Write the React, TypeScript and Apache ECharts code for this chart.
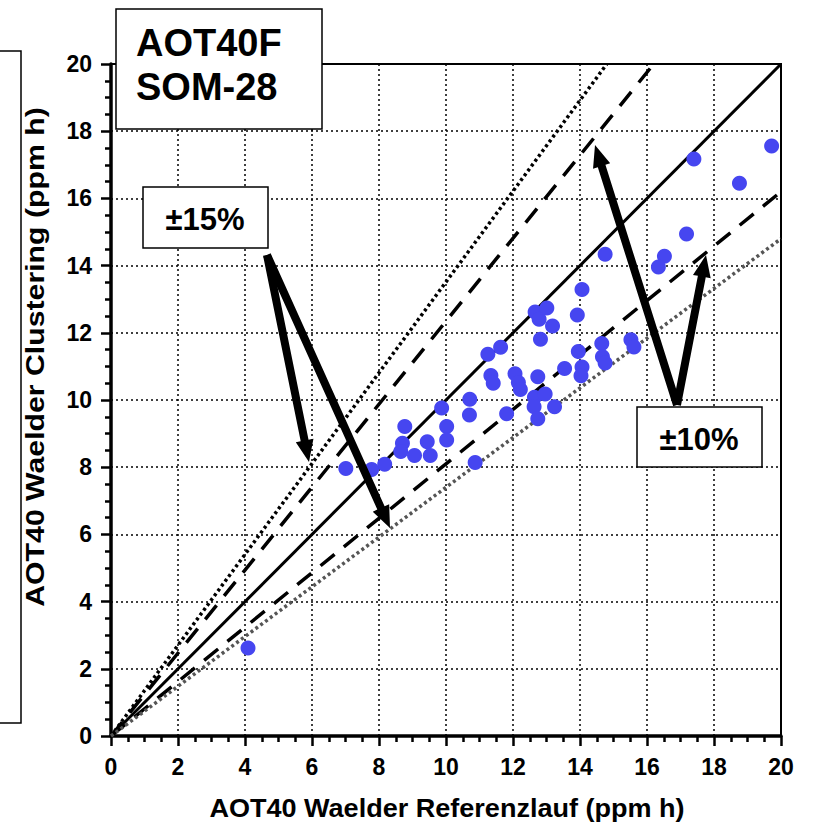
import React, { useEffect, useRef } from "react";
import * as echarts from "echarts";

// AOT40 Waelder Referenzlauf (ppm h)
const referenzlauf = [
  4.09, 7.01, 7.78, 8.17, 8.77, 8.7, 8.65, 9.06, 9.44, 9.53,
  9.87, 10.02, 10.02, 10.71, 10.7, 10.87, 11.25, 11.63, 11.34, 11.41,
  11.81, 12.06, 12.16, 12.22, 12.74, 12.82, 12.66, 12.78, 13.01, 13.18,
  12.64, 12.96, 12.63, 12.74, 13.24, 13.54, 13.95, 14.06, 14.03, 13.92,
  14.06, 14.65, 14.67, 14.75, 15.52, 15.61, 14.75, 16.52, 16.34, 17.18,
  17.4, 18.76, 19.72,
];
// AOT40 Waelder Clustering (ppm h)
const clustering = [
  2.62, 7.96, 7.93, 8.09, 9.21, 8.71, 8.47, 8.35, 8.76, 8.35,
  9.76, 9.21, 8.81, 10.02, 9.55, 8.14, 11.36, 11.57, 10.73, 10.5,
  9.59, 10.78, 10.52, 10.31, 10.69, 11.81, 12.62, 12.4, 12.74, 12.2,
  10.08, 10.18, 9.8, 9.44, 9.8, 10.94, 11.44, 10.98, 10.72, 12.53,
  13.29, 11.68, 11.29, 11.1, 11.79, 11.58, 14.34, 14.28, 13.96, 14.94,
  17.17, 16.45, 17.56,
];

// reference lines (endpoints)
const identityLine = [[0, 0], [20, 20]];
const upperDashed = [[0, 0], [16.2, 20]];
const lowerDashed = [[0, 0], [20, 16.2]];
const upperDotted = [[0, 0], [14.8, 20]];
const lowerDotted = [[0, 0], [20, 14.8]];

const titleText = ["AOT40F", "SOM-28"];
const label15 = "±15%";
const label10 = "±10%";
const xTitle = "AOT40 Waelder Referenzlauf (ppm h)";
const yTitle = "AOT40 Waelder Clustering (ppm h)";

const FONT = "Liberation Sans, Arial, Helvetica, sans-serif";

function arrowPoints(x1: number, y1: number, x2: number, y2: number, w: number, hl: number, hw: number) {
  const dx = x2 - x1;
  const dy = y2 - y1;
  const len = Math.sqrt(dx * dx + dy * dy);
  const ux = dx / len;
  const uy = dy / len;
  const nx = -uy;
  const ny = ux;
  const bx = x2 - ux * hl;
  const by = y2 - uy * hl;
  return [
    [x1 + (nx * w) / 2, y1 + (ny * w) / 2],
    [bx + (nx * w) / 2, by + (ny * w) / 2],
    [bx + nx * hw, by + ny * hw],
    [x2, y2],
    [bx - nx * hw, by - ny * hw],
    [bx - (nx * w) / 2, by - (ny * w) / 2],
    [x1 - (nx * w) / 2, y1 - (ny * w) / 2],
  ];
}

function arrow(x1: number, y1: number, x2: number, y2: number) {
  return {
    type: "polygon",
    z: 100,
    shape: { points: arrowPoints(x1, y1, x2, y2, 8, 22, 9) },
    style: { fill: "#000" },
  };
}

export default function App() {
  const ref = useRef<HTMLDivElement>(null);

  useEffect(() => {
    if (!ref.current) return;
    const chart = echarts.init(ref.current, null, { renderer: "svg" });
    const points = referenzlauf.map((x, i) => [x, clustering[i]]);

    const labelStyle = {
      color: "#000",
      fontFamily: FONT,
      fontWeight: "bold",
      fontSize: 23,
    };

    const axisCommon = {
      type: "value",
      min: 0,
      max: 20,
      interval: 2,
      axisLine: { show: true, onZero: false, lineStyle: { color: "#000", width: 3.5 } },
      axisTick: { show: true, inside: false, length: 10, lineStyle: { color: "#000", width: 2.5 } },
      minorTick: { show: true, splitNumber: 4, length: 6, lineStyle: { color: "#000", width: 2.5 } },
      splitLine: { show: true, lineStyle: { color: "#000", width: 1.5, type: [2, 3] } },
    };

    chart.setOption({
      animation: false,
      backgroundColor: "#fff",
      grid: {
        left: 111,
        right: 33,
        top: 64,
        bottom: 88,
        show: true,
        borderColor: "#000",
        borderWidth: 2,
        backgroundColor: "transparent",
      },
      xAxis: { ...axisCommon, axisLabel: { ...labelStyle, margin: 19 } },
      yAxis: { ...axisCommon, axisLabel: { ...labelStyle, margin: 19 } },
      series: [
        {
          type: "line",
          data: identityLine,
          symbol: "none",
          z: 3,
          lineStyle: { color: "#000", width: 3, type: "solid" },
        },
        {
          type: "line",
          data: upperDashed,
          symbol: "none",
          z: 3,
          lineStyle: { color: "#000", width: 3.5, type: [18, 12] },
        },
        {
          type: "line",
          data: lowerDashed,
          symbol: "none",
          z: 3,
          lineStyle: { color: "#000", width: 3.5, type: [18, 12] },
        },
        {
          type: "line",
          data: upperDotted,
          symbol: "none",
          z: 3,
          lineStyle: { color: "#000", width: 3.5, type: [3, 3] },
        },
        {
          type: "line",
          data: lowerDotted,
          symbol: "none",
          z: 3,
          lineStyle: { color: "#555", width: 3.5, type: [3, 3] },
        },
        {
          type: "scatter",
          data: points,
          symbol: "circle",
          symbolSize: 15,
          z: 5,
          itemStyle: { color: "#4646f0", opacity: 1 },
        },
      ],
      graphic: [
        {
          type: "rect",
          z: 50,
          shape: { x: -5, y: 51, width: 26, height: 672 },
          style: { fill: "none", stroke: "#000", lineWidth: 1.5 },
        },
        {
          type: "text",
          z: 50,
          x: 35,
          y: 357,
          rotation: Math.PI / 2,
          scaleX: 1.21,
          style: {
            text: yTitle,
            font: `bold 25px ${FONT}`,
            fill: "#000",
            textAlign: "center",
            textVerticalAlign: "middle",
          },
        },
        {
          type: "text",
          z: 50,
          x: 447,
          y: 808,
          scaleX: 1.04,
          style: {
            text: xTitle,
            font: `bold 26px ${FONT}`,
            fill: "#000",
            textAlign: "center",
            textVerticalAlign: "middle",
          },
        },
        arrow(267, 255, 309, 462),
        arrow(267, 255, 390, 528),
        arrow(677, 405, 595, 145),
        arrow(677, 405, 706, 255),
        {
          type: "rect",
          z: 110,
          shape: { x: 116, y: 9, width: 206, height: 120 },
          style: { fill: "#fff", stroke: "#000", lineWidth: 1.5 },
        },
        {
          type: "text",
          z: 111,
          x: 136,
          y: 43,
          style: {
            text: titleText[0],
            font: `bold 38px ${FONT}`,
            fill: "#000",
            textAlign: "left",
            textVerticalAlign: "middle",
          },
        },
        {
          type: "text",
          z: 111,
          x: 136,
          y: 87,
          style: {
            text: titleText[1],
            font: `bold 38px ${FONT}`,
            fill: "#000",
            textAlign: "left",
            textVerticalAlign: "middle",
          },
        },
        {
          type: "rect",
          z: 110,
          shape: { x: 143, y: 187, width: 125, height: 61 },
          style: { fill: "#fff", stroke: "#000", lineWidth: 1.5 },
        },
        {
          type: "text",
          z: 111,
          x: 205,
          y: 219,
          style: {
            text: label15,
            font: `bold 31px ${FONT}`,
            fill: "#000",
            textAlign: "center",
            textVerticalAlign: "middle",
          },
        },
        {
          type: "rect",
          z: 110,
          shape: { x: 637, y: 407, width: 125, height: 60 },
          style: { fill: "#fff", stroke: "#000", lineWidth: 1.5 },
        },
        {
          type: "text",
          z: 111,
          x: 699,
          y: 439,
          style: {
            text: label10,
            font: `bold 31px ${FONT}`,
            fill: "#000",
            textAlign: "center",
            textVerticalAlign: "middle",
          },
        },
      ],
    });

    return () => {
      chart.dispose();
    };
  }, []);

  return (
    <div
      ref={ref}
      style={{ position: "absolute", left: 0, top: 0, width: 814, height: 824, background: "#fff" }}
    />
  );
}
